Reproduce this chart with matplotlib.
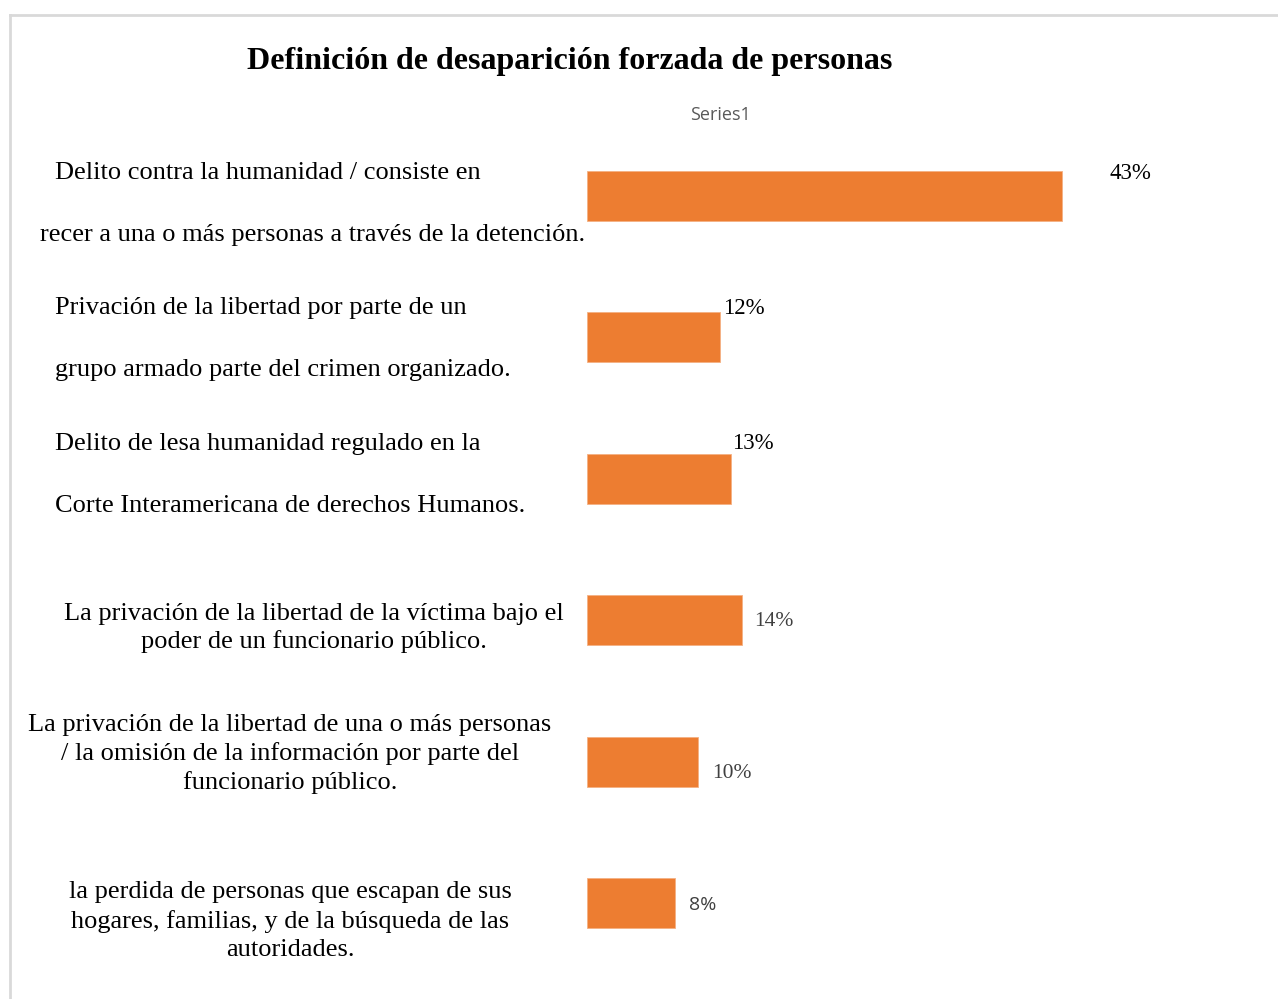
import matplotlib.pyplot as plt
from matplotlib.lines import Line2D

# data
categorias = [
    'Delito contra la humanidad / consiste en\nrecer a una o más personas a través de la detención.',
    'Privación de la libertad por parte de un\ngrupo armado parte del crimen organizado.',
    'Delito de lesa humanidad regulado en la\nCorte Interamericana de derechos Humanos.',
    'La privación de la libertad de la víctima bajo el\npoder de un funcionario público.',
    'La privación de la libertad de una o más personas\n/ la omisión de la información por parte del\nfuncionario público.',
    'la perdida de personas que escapan de sus\nhogares, familias, y de la búsqueda de las\nautoridades.',
]
valores = [43, 12, 13, 14, 10, 8]
etiquetas = ['43%', '12%', '13%', '14%', '10%', '8%']
serie = 'Series1'
titulo = 'Definición de desaparición forzada de personas'

W, H = 1278, 999
fig = plt.figure(figsize=(W / 100, H / 100), dpi=100)
fig.patch.set_facecolor('white')

# light frame: top and left only (screenshot crop)
fig.add_artist(Line2D([10 / W, 1.0], [1 - 15 / H, 1 - 15 / H],
                      transform=fig.transFigure, color='#d9d9d9', linewidth=2))
fig.add_artist(Line2D([10 / W, 10 / W], [0.0, 1 - 15 / H],
                      transform=fig.transFigure, color='#d9d9d9', linewidth=2))

# axes: left 587px, categories 125..974px
x0, x1 = 587, 1250
y_top, y_bot = 125, 974
ax = fig.add_axes([x0 / W, 1 - y_bot / H, (x1 - x0) / W, (y_bot - y_top) / H])
px_per = 11.05
ax.set_xlim(0, (x1 - x0) / px_per)
pos = list(range(len(valores)))
ax.set_ylim(len(valores) - 0.5, -0.5)

ax.barh(pos, valores, height=0.35, color='#ED7D31', edgecolor='#F4B183', linewidth=0.6)

for s in ax.spines.values():
    s.set_visible(False)
ax.set_xticks([])
ax.set_yticks([])

# data labels (offsets)
lab_dx = [4.3, 0.3, 0.1, 1.1, 1.3, 1.2]
lab_dy = [-0.16, -0.2, -0.25, 0.01, 0.08, 0.01]
lab_col = ['black', 'black', 'black', '#404040', '#404040', '#404040']
lab_fam = ['Liberation Serif'] * 5 + ['Open Sans']
lab_size = [16.5, 16.5, 16.5, 15.5, 15.5, 14]
for i, (v, t) in enumerate(zip(valores, etiquetas)):
    ax.text(v + lab_dx[i], i + lab_dy[i], t, ha='left', va='center',
            fontsize=lab_size[i], color=lab_col[i], family=lab_fam[i])

# category labels (figure pixel positions)
fs = 19
cat_x = [40, 55, 55, 314, 290, 290]
cat_y = [202, 339, 475, 628, 754, 921]
cat_ha = ['left', 'left', 'left', 'center', 'center', 'center']
cat_ls = [3.35, 3.35, 3.35, 1.3, 1.36, 1.36]
for i, c in enumerate(categorias):
    if i == 0:
        l1, l2 = c.split('\n')
        fig.text(55 / W, 1 - 173 / H, l1, ha='left', va='center',
                 fontsize=fs, family='Liberation Serif')
        fig.text(40 / W, 1 - 235 / H, l2, ha='left', va='center',
                 fontsize=fs, family='Liberation Serif')
        continue
    fig.text(cat_x[i] / W, 1 - cat_y[i] / H, c, ha=cat_ha[i], va='center',
             multialignment=cat_ha[i], fontsize=fs, linespacing=cat_ls[i],
             family='Liberation Serif')

fig.text(570 / W, 1 - 62 / H, titulo, ha='center', va='center',
         fontsize=23, fontweight='bold', family='Liberation Serif')
fig.text(720 / W, 1 - 115 / H, serie, ha='center', va='center',
         fontsize=13, color='#595959', family='Open Sans')

fig.savefig('out.png', dpi=100)
